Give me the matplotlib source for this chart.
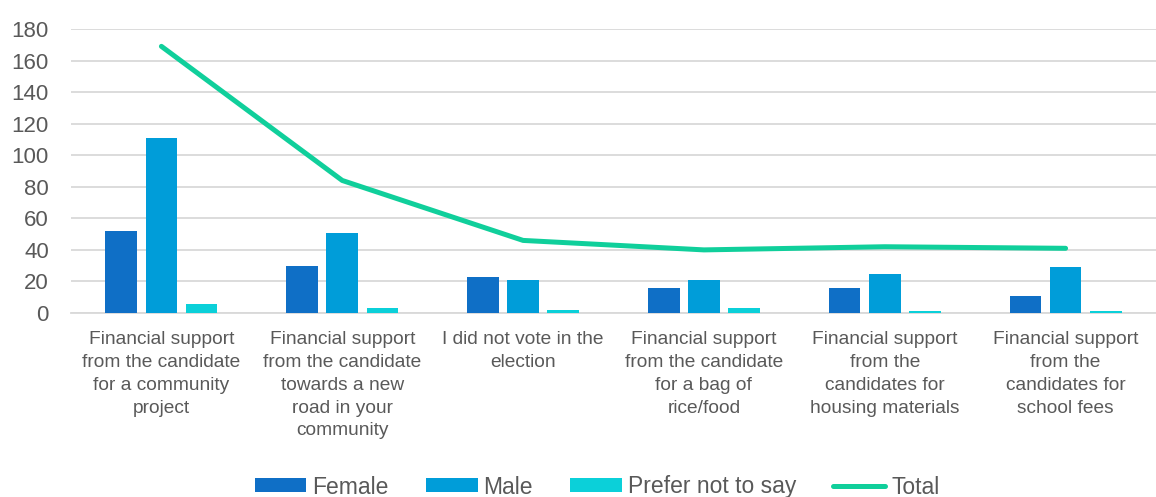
import matplotlib
matplotlib.use("Agg")
import matplotlib.pyplot as plt
import numpy as np

categories = [
    "Financial support\nfrom the candidate\nfor a community\nproject",
    "Financial support\nfrom the candidate\ntowards a new\nroad in your\ncommunity",
    "I did not vote in the\nelection",
    "Financial support\nfrom the candidate\nfor a bag of\nrice/food",
    "Financial support\nfrom the\ncandidates for\nhousing materials",
    "Financial support\nfrom the\ncandidates for\nschool fees",
]
female = [52, 30, 23, 16, 16, 11]
male = [111, 51, 21, 21, 25, 29]
prefer_not = [6, 3, 2, 3, 1, 1]
total = [169, 84, 46, 40, 42, 41]
yticks = [0, 20, 40, 60, 80, 100, 120, 140, 160, 180]

plt.rcParams['font.family'] = ['Liberation Sans', 'DejaVu Sans']
text_color = '#595959'

fig = plt.figure(figsize=(11.56, 4.97), dpi=100)
ax = fig.add_axes([71 / 1156, 1 - 313 / 497, 1 - 71 / 1156, (313 - 29) / 497])

x = np.arange(len(categories))
w = 0.175
off = 0.222
b1 = ax.bar(x - off, female, w, color='#0F6FC6', label='Female', zorder=3)
b2 = ax.bar(x, male, w, color='#009DD9', label='Male', zorder=3)
b3 = ax.bar(x + off, prefer_not, w, color='#0BD0D9', label='Prefer not to say', zorder=3)
ln, = ax.plot(x, total, color='#10CF9B', lw=3.6, solid_capstyle='round',
              solid_joinstyle='round', label='Total', zorder=4)

ax.set_xlim(-0.5, len(categories) - 0.5)
ax.set_ylim(0, 180)
ax.set_yticks(yticks)
ax.yaxis.grid(True, color='#D9D9D9', lw=1.3, zorder=0)
ax.set_axisbelow(True)
for s in ['top', 'right', 'left']:
    ax.spines[s].set_visible(False)
ax.spines['bottom'].set_color('#D9D9D9')
ax.spines['bottom'].set_linewidth(1.3)
ax.tick_params(axis='both', length=0, colors=text_color)
ax.tick_params(axis='y', pad=16, labelsize=16)
ax.set_xticks(x)
ax.set_xticklabels(categories, fontsize=13.8, color=text_color, linespacing=1.45)
ax.tick_params(axis='x', pad=13)

leg = fig.legend(handles=[b1, b2, b3, ln], loc='center',
                 bbox_to_anchor=(597 / 1156, 1 - 487 / 497), ncol=4,
                 frameon=False, fontsize=16.5, handlelength=2.26, handleheight=0.57,
                 columnspacing=1.62, handletextpad=0.26)
for t in leg.get_texts():
    t.set_color(text_color)

fig.savefig('out.png', dpi=100)
